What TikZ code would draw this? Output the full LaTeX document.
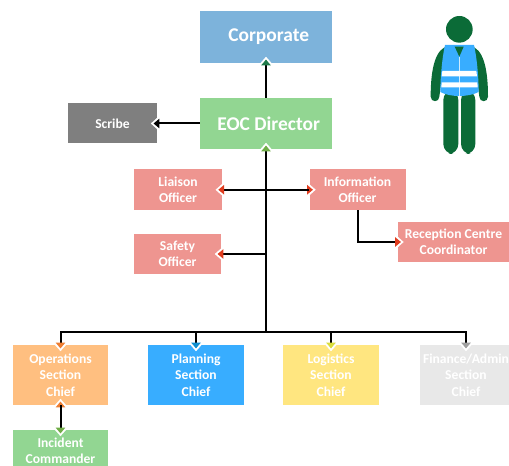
\documentclass[tikz,border=0pt]{standalone}
\usepackage{fontspec}
\setmainfont{Carlito}
\usetikzlibrary{arrows.meta}
\definecolor{cCorp}{HTML}{7DB3DB}
\definecolor{cGreen}{HTML}{92D692}
\definecolor{cGrey}{HTML}{7F7F7F}
\definecolor{cRed}{HTML}{EE9590}
\definecolor{cOrange}{HTML}{FFBF80}
\definecolor{cBlue}{HTML}{38ADFF}
\definecolor{cYellow}{HTML}{FFE680}
\definecolor{cLight}{HTML}{E8E8E8}
\definecolor{cDark}{HTML}{0B6B37}
\definecolor{tGreen}{HTML}{70AD47}
\definecolor{tRed}{HTML}{E03C1E}
\definecolor{tOrange}{HTML}{ED7D31}
\definecolor{tBlue}{HTML}{0F8FD0}
\definecolor{tYellow}{HTML}{D9DC3C}
\definecolor{tGrey}{HTML}{A0A0A0}
\definecolor{tCorp}{HTML}{1F7A4A}
\newdimen\px \px=.75pt
\newcommand\haloconn[2]{\draw[line width=.2pt,white,shorten >=-4.8pt,-{Triangle[length=6.8pt,width=12pt]}] #2;}
\newcommand\lineconn[2]{\draw[line width=1.5pt,black,shorten >=-2.8pt,-{Triangle[length=4.4pt,width=7pt,color=#1]}] #2;}
\newcommand\conns{%
  \conn{tCorp}{(eoc.north) -- (corp.south)}
  \conn{black}{(eoc.west) -- (scribe.east)}
  \conn{tGreen}{(bus) -- (eoc.south)}
  \conn{tRed}{(liaison.east) -- (info.west)}
  \conn{tRed}{(info.west) -- (liaison.east)}
  \conn{tRed}{(safety.east -| bus) -- (safety.east)}
  \conn{tRed}{(info.south) |- (recep.west)}
  \conn{tOrange}{(bus) -| (ops.north)}
  \conn{tBlue}{(bus) -| (plan.north)}
  \conn{tYellow}{(bus) -| (logi.north)}
  \conn{tGrey}{(bus) -| (fin.north)}
  \conn{tOrange}{(inc.north) -- (ops.south)}
  \conn{tGreen}{(ops.south) -- (inc.north)}
}
\tikzset{
  orgbox/.style={fill=#1,draw=none,text=white,align=center,font=\fontsize{10.2pt}{12.4pt}\selectfont\bfseries,inner sep=0pt},
  topbox/.style={orgbox=#1,font=\fontsize{14.6pt}{16pt}\selectfont\bfseries},
  sz/.style n args={2}{minimum width=#1\px,minimum height=#2\px}
}
\begin{document}
\begin{tikzpicture}[x=.75pt,y=-.75pt]
\useasboundingbox (0,0) rectangle (509,466);
\clip (0,0) rectangle (509,466);
\node[topbox=cCorp,sz={132}{52}] (corp) at (266,37) {\hspace*{4pt}Corporate};
\node[topbox=cGreen,sz={132}{51}] (eoc) at (266,123.5) {\hspace*{4pt}EOC Director};
\node[orgbox=cGrey,sz={89}{40}] (scribe) at (112.5,123.5) {Scribe};
\node[orgbox=cRed,sz={87.5}{40.5}] (liaison) at (178,189.75) {Liaison\\Officer};
\node[orgbox=cRed,sz={96}{40.5}] (info) at (357.5,189.75) {Information\\Officer};
\node[orgbox=cRed,sz={87}{40}] (safety) at (177.5,254) {Safety\\Officer};
\node[orgbox=cRed,sz={112}{40}] (recep) at (453.5,242) {Reception Centre\\Coordinator};
\node[orgbox=cOrange,sz={95}{60}] (ops) at (60.5,375) {Operations\\Section\\Chief};
\node[orgbox=cBlue,sz={96}{60}] (plan) at (196,375) {Planning\\Section\\Chief};
\node[orgbox=cYellow,sz={96}{60}] (logi) at (331,375) {Logistics\\Section\\Chief};
\node[orgbox=cLight,sz={92}{60}] (fin) at (466,375) {Finance/Admin\\Section\\Chief};
\node[orgbox=cGreen,sz={95}{52}] (inc) at (60.5,456) {};
\node[text=white,align=center,font=\fontsize{10.2pt}{12.4pt}\selectfont\bfseries,inner sep=0pt] (inclabel) at (60.5,451) {Incident\\Commander};
\coordinate (bus) at (266,332);
\let\conn\haloconn \conns
\let\conn\lineconn \conns
% person in high-visibility vest
\begin{scope}[shift={(380,0)},x=.25pt,y=-.25pt]
  \fill[cDark] (238,88) circle (40);
  \fill[cDark] (205,138) .. controls (168,145) and (152,200) .. (152,290)
     .. controls (152,308) and (178,308) .. (178,290) -- (190,200) -- cycle;
  \fill[cDark] (271,138) .. controls (308,145) and (324,200) .. (324,290)
     .. controls (324,308) and (298,308) .. (298,290) -- (286,200) -- cycle;
  \fill[cDark,rounded corners=7.5pt] (190,270) rectangle (235,462);
  \fill[cDark,rounded corners=7.5pt] (243,270) rectangle (286,462);
  \fill[cBlue] (195,135) -- (282,135) .. controls (290,170) and (296,230) .. (296,276)
     .. controls (265,292) and (210,292) .. (181,276) .. controls (181,230) and (187,170) .. (195,135) -- cycle;
  \fill[cDark] (224,140) -- (251,140) -- (238,170) -- cycle;
  \draw[white!75!cBlue,line width=.3pt] (238,170) -- (238,288);
  \fill[white] (187,213) -- (289,213) -- (291,229) -- (185,229) -- cycle;
  \fill[white] (185,247) -- (292,247) -- (293,262) -- (184,262) -- cycle;
\end{scope}
\end{tikzpicture}
\end{document}
